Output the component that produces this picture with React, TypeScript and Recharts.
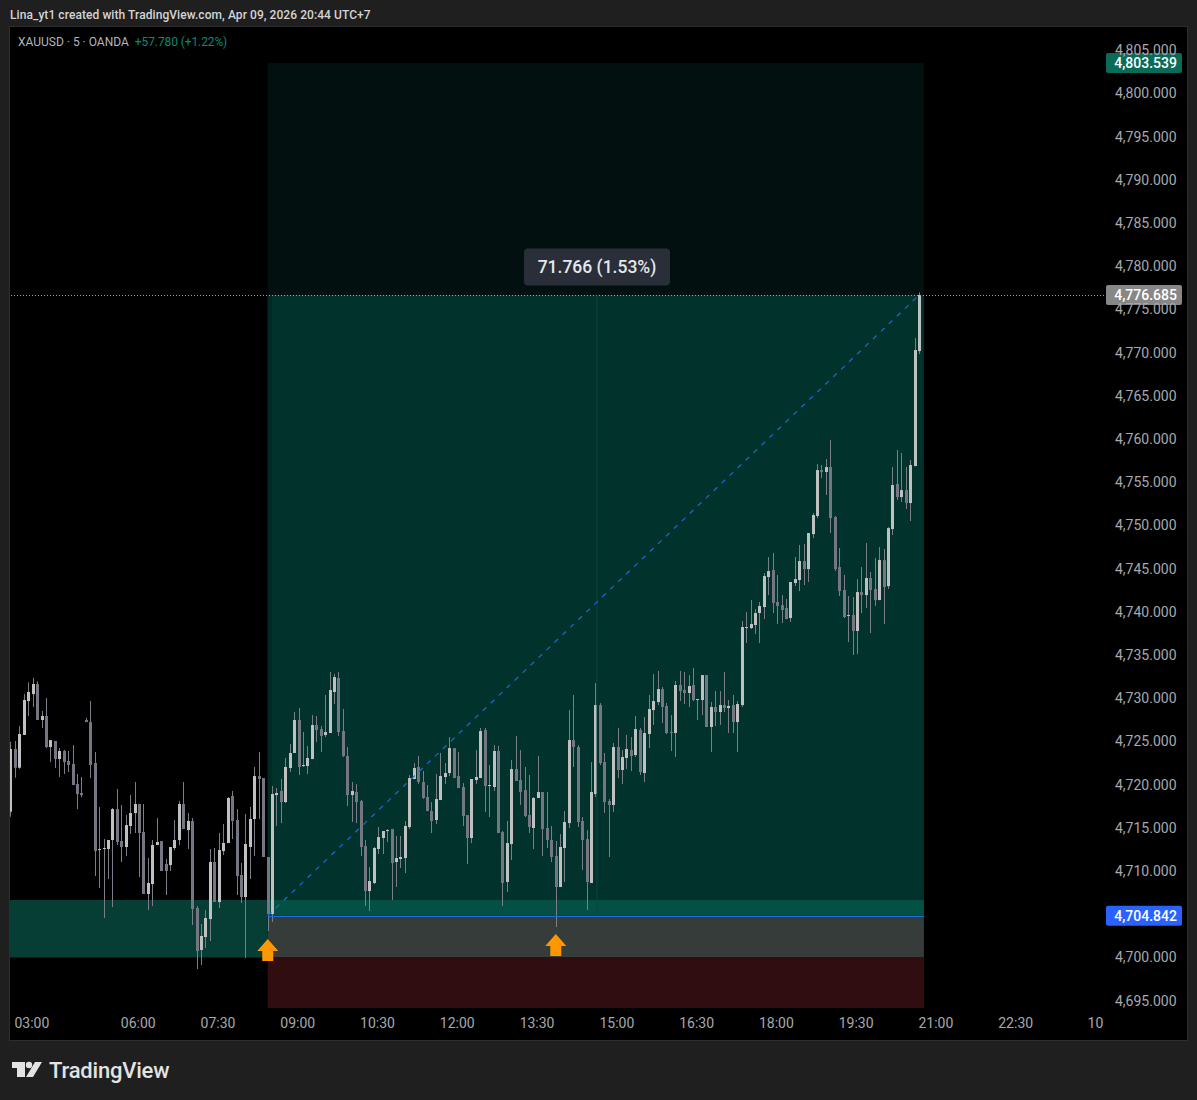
import { Bar, ComposedChart, ReferenceArea, ReferenceDot, ReferenceLine, XAxis, YAxis } from 'recharts'

// 5 minute candles
const opens = [
  4716.88, 4724.13, 4721.97, 4725.75, 4729.68, 4730.49, 4731.65, 4727.49, 4727.95, 4724.36,
  4725.06, 4722.97, 4723.90, 4722.74, 4722.39, 4720.08, 4719.04, 4727.49, 4727.25, 4722.51,
  4712.44, 4712.56, 4712.56, 4713.60, 4717.18, 4713.48, 4712.79, 4715.22, 4716.72, 4717.76,
  4714.52, 4707.35, 4708.50, 4713.02, 4713.48, 4710.82, 4710.70, 4712.67, 4713.60, 4717.76,
  4714.75, 4715.80, 4705.73, 4700.87, 4702.37, 4704.45, 4711.05, 4706.42, 4712.32, 4713.25,
  4718.69, 4715.91, 4709.55, 4707.00, 4712.79, 4716.03, 4721.00, 4720.77, 4711.63, 4705.03,
  4718.80, 4719.27, 4717.99, 4721.93, 4723.67, 4727.49, 4722.16, 4722.16, 4722.97, 4726.91,
  4726.44, 4725.75, 4725.98, 4730.73, 4732.35, 4726.21, 4723.32, 4718.80, 4719.15, 4718.11,
  4712.90, 4707.69, 4708.62, 4712.56, 4713.83, 4714.64, 4714.87, 4711.05, 4711.40, 4711.51,
  4715.10, 4720.66, 4722.05, 4720.31, 4718.57, 4716.95, 4715.91, 4718.23, 4720.89, 4721.35,
  4724.24, 4721.00, 4719.73, 4716.49, 4713.83, 4720.54, 4720.77, 4726.33, 4719.85, 4719.73,
  4723.90, 4714.52, 4708.74, 4713.13, 4721.81, 4720.54, 4719.38, 4716.49, 4714.99, 4718.46,
  4719.15, 4714.99, 4713.60, 4711.75, 4708.16, 4712.67, 4715.56, 4725.17, 4724.36, 4715.80,
  4713.71, 4708.62, 4718.92, 4729.22, 4722.62, 4718.11, 4717.65, 4724.36, 4721.70, 4723.09,
  4724.01, 4723.43, 4726.33, 4721.35, 4725.87, 4728.64, 4729.57, 4731.07, 4729.11, 4726.10,
  4725.98, 4731.54, 4730.96, 4730.61, 4731.54, 4729.80, 4729.80, 4732.69, 4726.68, 4728.99,
  4728.41, 4729.22, 4728.87, 4729.22, 4727.25, 4729.22, 4738.13, 4738.13, 4738.48, 4739.87,
  4740.56, 4744.04, 4744.85, 4741.14, 4740.79, 4740.45, 4739.29, 4743.34, 4743.69, 4745.89,
  4744.96, 4749.01, 4751.10, 4756.42, 4756.19, 4756.77, 4750.98, 4745.19, 4742.53, 4739.52,
  4739.64, 4737.79, 4742.30, 4741.95, 4743.92, 4742.65, 4741.37, 4746.00, 4742.99, 4749.59,
  4754.80, 4753.29, 4754.10, 4752.60, 4756.88, 4770.19,
]
const highs = [
  4724.98, 4725.06, 4726.79, 4730.49, 4731.85, 4732.35, 4731.96, 4728.53, 4730.03, 4725.17,
  4725.06, 4724.24, 4724.01, 4723.90, 4724.59, 4721.24, 4720.89, 4727.72, 4729.68, 4723.78,
  4717.42, 4713.71, 4713.60, 4717.30, 4719.50, 4717.65, 4716.49, 4718.81, 4720.31, 4717.76,
  4717.76, 4711.51, 4713.60, 4716.14, 4713.48, 4711.40, 4712.79, 4715.91, 4718.11, 4720.31,
  4716.72, 4716.14, 4705.96, 4703.88, 4705.49, 4712.56, 4712.67, 4714.41, 4715.45, 4718.57,
  4719.27, 4717.18, 4710.93, 4716.61, 4717.42, 4722.05, 4723.78, 4720.77, 4711.63, 4719.85,
  4719.62, 4720.66, 4723.09, 4724.71, 4728.41, 4728.87, 4726.10, 4724.48, 4728.06, 4727.95,
  4726.79, 4730.38, 4733.04, 4732.81, 4733.04, 4728.76, 4724.36, 4720.31, 4720.08, 4718.23,
  4713.60, 4710.47, 4712.79, 4715.10, 4714.64, 4714.87, 4714.87, 4714.06, 4714.06, 4715.80,
  4721.12, 4722.51, 4723.32, 4721.58, 4719.96, 4717.99, 4721.24, 4723.67, 4722.51, 4725.52,
  4724.24, 4723.78, 4720.19, 4716.49, 4720.66, 4724.01, 4726.56, 4726.56, 4722.28, 4724.59,
  4724.48, 4714.64, 4715.80, 4722.86, 4725.63, 4724.01, 4722.05, 4721.12, 4718.57, 4723.32,
  4719.15, 4719.15, 4715.22, 4713.48, 4714.29, 4716.95, 4728.64, 4730.38, 4724.59, 4716.26,
  4714.75, 4722.62, 4731.77, 4729.45, 4723.67, 4718.34, 4724.82, 4726.56, 4724.01, 4725.75,
  4725.52, 4727.95, 4726.56, 4727.83, 4730.38, 4732.81, 4733.16, 4731.30, 4729.45, 4728.06,
  4732.00, 4733.16, 4733.04, 4732.69, 4733.50, 4729.92, 4732.69, 4732.69, 4729.57, 4730.84,
  4730.84, 4733.04, 4729.80, 4730.38, 4729.68, 4738.94, 4739.98, 4741.37, 4740.33, 4741.14,
  4744.50, 4746.35, 4746.81, 4744.27, 4741.95, 4741.49, 4743.46, 4746.35, 4747.74, 4747.86,
  4749.13, 4751.44, 4757.11, 4757.00, 4757.69, 4759.89, 4751.10, 4747.39, 4744.27, 4741.84,
  4741.72, 4743.80, 4745.19, 4747.97, 4744.61, 4746.23, 4747.51, 4747.28, 4749.82, 4756.77,
  4758.73, 4758.39, 4756.77, 4757.58, 4771.70, 4776.98,
]
const lows = [
  4716.30, 4720.81, 4721.85, 4725.75, 4727.95, 4728.99, 4727.49, 4726.56, 4724.24, 4722.62,
  4721.93, 4720.89, 4721.24, 4721.47, 4719.96, 4717.18, 4718.57, 4727.25, 4720.77, 4709.43,
  4708.04, 4704.57, 4709.08, 4705.84, 4713.02, 4711.05, 4711.75, 4714.29, 4714.41, 4709.31,
  4707.35, 4705.49, 4705.96, 4713.02, 4710.01, 4707.23, 4710.01, 4712.44, 4713.02, 4714.87,
  4712.56, 4703.76, 4698.67, 4699.13, 4701.10, 4701.91, 4706.42, 4705.73, 4711.86, 4713.25,
  4713.71, 4707.23, 4706.31, 4699.94, 4709.08, 4711.75, 4716.03, 4711.63, 4703.06, 4704.11,
  4715.22, 4715.56, 4717.88, 4721.47, 4723.67, 4721.12, 4722.05, 4721.24, 4722.97, 4724.94,
  4723.78, 4725.52, 4725.98, 4729.34, 4725.63, 4723.20, 4717.53, 4715.68, 4715.56, 4711.75,
  4705.96, 4705.38, 4708.50, 4711.98, 4711.98, 4713.37, 4706.65, 4708.16, 4710.36, 4709.78,
  4714.87, 4720.66, 4720.08, 4718.34, 4716.95, 4714.41, 4715.45, 4718.23, 4720.08, 4721.00,
  4720.77, 4719.62, 4715.22, 4710.82, 4713.25, 4720.08, 4720.77, 4716.84, 4716.26, 4719.27,
  4714.41, 4705.96, 4707.58, 4711.28, 4720.43, 4717.65, 4716.26, 4714.41, 4712.56, 4718.46,
  4711.75, 4712.67, 4711.05, 4703.53, 4708.16, 4708.74, 4714.99, 4722.05, 4715.10, 4710.12,
  4705.49, 4708.62, 4718.57, 4722.28, 4716.72, 4711.63, 4716.84, 4720.77, 4720.08, 4721.81,
  4721.58, 4723.20, 4721.12, 4720.31, 4724.24, 4726.91, 4729.22, 4727.14, 4725.87, 4723.90,
  4723.20, 4729.68, 4729.34, 4728.99, 4729.68, 4727.49, 4728.06, 4726.68, 4723.78, 4726.79,
  4726.91, 4728.41, 4725.98, 4725.98, 4723.78, 4729.00, 4736.40, 4738.02, 4737.44, 4736.40,
  4739.17, 4741.95, 4739.87, 4738.60, 4738.71, 4739.17, 4738.83, 4742.99, 4742.41, 4743.11,
  4743.46, 4748.55, 4750.86, 4755.49, 4753.53, 4749.13, 4744.73, 4741.84, 4739.29, 4736.51,
  4735.01, 4735.12, 4739.87, 4740.45, 4737.55, 4740.68, 4741.37, 4738.60, 4742.65, 4748.90,
  4752.95, 4752.72, 4751.91, 4750.52, 4756.88, 4769.85,
]
const closes = [
  4724.13, 4721.97, 4725.87, 4729.80, 4730.73, 4731.65, 4727.49, 4727.95, 4724.36, 4725.17,
  4722.97, 4723.90, 4722.62, 4722.28, 4719.96, 4718.92, 4718.80, 4727.25, 4722.28, 4712.32,
  4712.56, 4712.67, 4713.60, 4717.18, 4713.37, 4712.79, 4715.33, 4716.72, 4717.76, 4714.41,
  4707.35, 4708.62, 4713.02, 4713.37, 4710.01, 4710.01, 4712.79, 4713.60, 4717.76, 4714.87,
  4715.80, 4705.61, 4700.75, 4702.49, 4704.57, 4711.05, 4706.42, 4712.44, 4713.25, 4718.46,
  4715.80, 4709.43, 4707.00, 4713.13, 4716.03, 4721.00, 4720.66, 4711.63, 4705.03, 4718.92,
  4719.04, 4717.99, 4722.05, 4723.67, 4727.49, 4722.05, 4722.28, 4723.09, 4726.91, 4726.33,
  4725.63, 4726.10, 4730.96, 4732.46, 4726.10, 4723.32, 4718.80, 4719.27, 4717.99, 4712.79,
  4707.69, 4708.85, 4712.67, 4713.94, 4714.64, 4714.75, 4710.93, 4711.51, 4711.63, 4715.22,
  4720.77, 4721.93, 4720.31, 4718.46, 4716.95, 4715.80, 4718.34, 4721.00, 4721.35, 4724.24,
  4720.77, 4719.62, 4716.37, 4713.83, 4720.66, 4720.89, 4726.21, 4719.85, 4719.96, 4723.90,
  4714.41, 4708.62, 4713.25, 4721.81, 4720.43, 4719.15, 4716.37, 4715.10, 4718.46, 4719.15,
  4714.87, 4713.60, 4711.63, 4708.16, 4712.79, 4715.68, 4725.17, 4724.36, 4715.68, 4713.60,
  4708.74, 4719.15, 4729.22, 4722.51, 4717.99, 4717.65, 4724.36, 4721.70, 4723.20, 4724.13,
  4723.32, 4726.44, 4721.47, 4725.98, 4728.76, 4729.68, 4731.07, 4728.99, 4725.98, 4725.98,
  4731.54, 4730.84, 4730.61, 4731.42, 4729.80, 4729.92, 4732.69, 4726.68, 4728.99, 4728.41,
  4729.22, 4728.87, 4729.11, 4727.25, 4729.34, 4738.25, 4738.25, 4738.60, 4739.87, 4740.68,
  4744.15, 4744.73, 4741.03, 4740.68, 4740.22, 4739.17, 4743.46, 4743.80, 4745.89, 4744.96,
  4749.13, 4751.21, 4756.42, 4756.19, 4756.77, 4750.86, 4744.96, 4742.41, 4739.41, 4739.64,
  4737.79, 4742.30, 4741.95, 4743.92, 4742.53, 4741.37, 4746.00, 4742.88, 4749.70, 4754.68,
  4753.29, 4754.10, 4752.60, 4757.00, 4770.31, 4776.685,
]

// 4,705.000 is hidden behind the entry price tag in the original, so it is left out
const priceTicks = [
  4695, 4700, 4710, 4715, 4720, 4725, 4730, 4735, 4740, 4745, 4750,
  4755, 4760, 4765, 4770, 4775, 4780, 4785, 4790, 4795, 4800, 4805,
]
const timeTicks = [5, 29, 47, 65, 83, 101, 119, 137, 155, 173, 191, 209, 227, 245]
const timeLabels = [
  '03:00', '06:00', '07:30', '09:00', '10:30', '12:00', '13:30',
  '15:00', '16:30', '18:00', '19:30', '21:00', '22:30', '10',
]

// long position tool
const entryBar = 58
const lastBar = 205
const toolEndBar = 206.07
const midBar = 132.3
const entryPrice = 4704.842
const targetPrice = 4803.539
const currentPrice = 4776.685
const zoneTop = 4706.65
const zoneBottom = 4700
const stopBottom = 4694.155
const arrows = [
  { bar: 58, price: 4702.14 },
  { bar: 123, price: 4702.72 },
]

const candles = opens.map((open, i) => ({
  index: i,
  open,
  high: highs[i],
  low: lows[i],
  close: closes[i],
}))

const FONT = 'Roboto, sans-serif'
const X_MIN = -0.158
const X_MAX = 246.7
const Y_MIN = 4694.155
const Y_MAX = 4807.7

function Candle(props: any) {
  const { x, y, width, height, payload } = props
  const { open, close, high, low } = payload
  const up = close >= open
  const perUnit = height / (high - low)
  const bodyTop = y + (high - Math.max(open, close)) * perUnit
  const bodyH = Math.max(1, Math.abs(open - close) * perUnit)
  const left = Math.round(x + width / 2 - 1.5)
  const color = up ? '#bfc0c0' : '#747781'
  return (
    <g>
      <rect x={left + 1} y={y} width={1} height={height} fill="#7b7e86" />
      <rect x={left} y={bodyTop} width={3} height={bodyH} fill={color} />
    </g>
  )
}

// horizontal line snapped to a pixel row, so it stays crisp
function CrispLine(props: any) {
  const { x1, x2, y1, stroke, strokeDasharray } = props
  const y = Math.round(y1) + 0.5
  return <line x1={x1} x2={x2} y1={y} y2={y} stroke={stroke} strokeDasharray={strokeDasharray} />
}

function UpArrow(props: any) {
  const { cx, cy } = props
  const pts = [
    [0, 0], [10.5, 12], [5.5, 12], [5.5, 22], [-5.5, 22], [-5.5, 12], [-10.5, 12],
  ]
  return <polygon points={pts.map(([a, b]) => `${cx + a},${cy + b}`).join(' ')} fill="#ff9800" />
}

function PriceTag(props: any) {
  const { cx, cy, fill, value } = props
  return (
    <g>
      <rect x={cx + 2} y={cy - 10} width={76} height={20} rx={2} fill={fill} />
      <text x={cx + 73} y={cy + 5} textAnchor="end" fontFamily={FONT} fontSize={14} fontWeight={500} fill="#fff">
        {value}
      </text>
    </g>
  )
}

function MeasureTag(props: any) {
  const { cx, cy } = props
  return (
    <g>
      <rect x={cx - 73} y={cy - 18.5} width={146} height={37} rx={4} fill="#2a2e39" />
      <text x={cx} y={cy + 6} textAnchor="middle" fontFamily={FONT} fontSize={17.5} fontWeight={500} fill="#e6e7ea">
        71.766 (1.53%)
      </text>
    </g>
  )
}

function App() {
  return (
    <div style={{ position: 'absolute', left: 0, top: 0, width: 1197, height: 1100, background: '#1f1f1f', overflow: 'hidden', fontFamily: FONT }}>
      <div style={{ position: 'absolute', left: 10, top: 8, fontSize: 12, fontWeight: 500, color: '#d4d4d4', whiteSpace: 'nowrap', letterSpacing: 0.07 }}>
        Lina_yt1 created with TradingView.com, Apr 09, 2026 20:44 UTC+7
      </div>
      <div style={{ position: 'absolute', left: 9, top: 26, width: 1177, height: 1013, background: '#000', border: '1px solid #2e2e2e' }} />

      <div style={{ position: 'absolute', left: 0, top: 0 }}>
        <ComposedChart
          width={1197}
          height={1100}
          data={candles}
          margin={{ top: 27, right: 0, bottom: 62, left: 10 }}
        >
          <XAxis
            type="number"
            dataKey="index"
            domain={[X_MIN, X_MAX]}
            ticks={timeTicks}
            allowDataOverflow
            axisLine={false}
            tickLine={false}
            height={30}
            interval={0}
            tickMargin={4}
            tick={{ fill: '#a6a8ae', fontSize: 14, fontFamily: FONT, dx: -1 }}
            tickFormatter={(v: number) => timeLabels[timeTicks.indexOf(v)]}
          />
          <YAxis
            orientation="right"
            domain={[Y_MIN, Y_MAX]}
            ticks={priceTicks}
            allowDataOverflow
            axisLine={false}
            tickLine={false}
            width={93}
            tickMargin={5}
            interval={0}
            tick={{ fill: '#a6a8ae', fontSize: 14, fontFamily: FONT }}
            tickFormatter={(v: number) => v.toLocaleString('en-US', { minimumFractionDigits: 3 })}
          />

          <ReferenceArea x1={X_MIN} x2={entryBar} y1={zoneBottom} y2={zoneTop} fill="#063d35" fillOpacity={1} stroke="none" />
          <ReferenceArea x1={entryBar} x2={toolEndBar} y1={currentPrice} y2={targetPrice} fill="#02110f" fillOpacity={1} stroke="none" />
          <ReferenceArea x1={entryBar} x2={toolEndBar} y1={entryPrice} y2={currentPrice} fill="#01322b" fillOpacity={1} stroke="none" />
          <ReferenceArea x1={entryBar} x2={entryBar + 0.9} y1={zoneTop} y2={currentPrice} fill="#012a24" fillOpacity={1} stroke="none" />
          <ReferenceArea x1={entryBar} x2={toolEndBar} y1={entryPrice} y2={zoneTop} fill="#055045" fillOpacity={1} stroke="none" />
          <ReferenceArea x1={entryBar} x2={toolEndBar} y1={zoneBottom} y2={entryPrice} fill="#363c39" fillOpacity={1} stroke="none" />
          <ReferenceArea x1={entryBar} x2={toolEndBar} y1={stopBottom} y2={zoneBottom} fill="#300e10" fillOpacity={1} stroke="none" />

          <ReferenceLine y={currentPrice} stroke="#9aa5a3" strokeDasharray="1 2" shape={CrispLine} />
          <ReferenceLine
            segment={[{ x: midBar, y: entryPrice }, { x: midBar, y: currentPrice }]}
            stroke="#0b453a"
          />
          <ReferenceLine
            segment={[{ x: entryBar, y: entryPrice }, { x: lastBar, y: currentPrice }]}
            stroke="#1c6ad6"
            strokeWidth={1.2}
            strokeDasharray="5 6"
          />

          <Bar
            dataKey={(d: any) => [d.low, d.high]}
            barSize={3}
            shape={Candle}
            isAnimationActive={false}
          />

          <ReferenceLine
            segment={[{ x: entryBar, y: entryPrice }, { x: toolEndBar, y: entryPrice }]}
            stroke="#1e6fd9"
            shape={CrispLine}
          />
          {arrows.map((a) => (
            <ReferenceDot key={a.bar} x={a.bar} y={a.price} r={1} shape={UpArrow} />
          ))}
          <ReferenceDot x={midBar} y={4779.93} r={1} shape={MeasureTag} />
          <ReferenceDot x={X_MAX} y={targetPrice} r={1} ifOverflow="visible" shape={(p: any) => <PriceTag {...p} fill="#0b6b59" value="4,803.539" />} />
          <ReferenceDot x={X_MAX} y={currentPrice} r={1} ifOverflow="visible" shape={(p: any) => <PriceTag {...p} fill="#878787" value="4,776.685" />} />
          <ReferenceDot x={X_MAX} y={entryPrice} r={1} ifOverflow="visible" shape={(p: any) => <PriceTag {...p} fill="#2962ff" value="4,704.842" />} />
        </ComposedChart>
      </div>

      <div style={{ position: 'absolute', left: 18, top: 35, fontSize: 12, color: '#b2b5be', whiteSpace: 'nowrap' }}>
        XAUUSD · 5 · OANDA
        <span style={{ color: '#0a8a73', marginLeft: 6, letterSpacing: -0.1 }}>+57.780 (+1.22%)</span>
      </div>

      <svg style={{ position: 'absolute', left: 12, top: 1061 }} width={31} height={18}>
        <path d="M0 1h13v15H5V7H0z" fill="#e3e3e3" />
        <circle cx={17} cy={4} r={3.2} fill="#e3e3e3" />
        <path d="M23 1h7l-9 15h-7z" fill="#e3e3e3" />
      </svg>
      <div style={{ position: 'absolute', left: 49, top: 1058, fontSize: 22, fontWeight: 500, color: '#e3e3e3', whiteSpace: 'nowrap', letterSpacing: -0.2 }}>
        TradingView
      </div>
    </div>
  )
}

export default App
